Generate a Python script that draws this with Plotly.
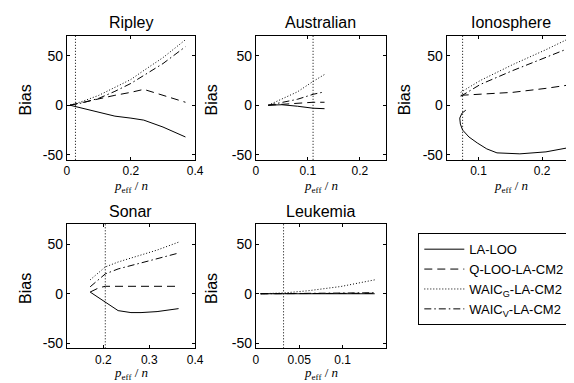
import plotly.graph_objects as go

W, H = 574, 383

# ---------------- data ----------------
titles = ["Ripley", "Australian", "Ionosphere", "Sonar", "Leukemia"]
methods = ["LA-LOO", "Q-LOO-LA-CM2", "WAIC<sub>G</sub>-LA-CM2", "WAIC<sub>V</sub>-LA-CM2"]

ripley_x = [0.01, 0.05, 0.1, 0.15, 0.2, 0.24, 0.3, 0.37]
ripley_la_loo = [0, -3, -7.5, -11, -13, -15, -22, -32]
ripley_q_loo = [0, 3, 7, 10, 13, 16, 10, 3]
ripley_waic_g = [0, 4, 10, 18, 26, 35, 48, 66]
ripley_waic_v = [0, 2.5, 7, 14, 22, 30, 42, 59]

australian_x = [0.024, 0.05, 0.08, 0.11, 0.132]
australian_la_loo = [0, 0.5, -1, -3, -3.5]
australian_q_loo = [0, 1, 2, 3, 3]
australian_waic_g = [0, 6.5, 13.5, 24, 31]
australian_waic_v = [0, 2.5, 6, 11, 13.5]

ionosphere_la_loo_x = [0.080, 0.074, 0.0705, 0.0715, 0.075, 0.085, 0.098, 0.113, 0.129, 0.165, 0.206, 0.248]
ionosphere_la_loo = [-5, -8, -13, -19, -25, -32, -38, -44, -48, -49, -47, -42]
ionosphere_x = [0.072, 0.103, 0.154, 0.206, 0.248]
ionosphere_q_loo = [10, 11, 13, 17, 21]
ionosphere_waic_g = [13, 25, 41, 56, 69]
ionosphere_waic_v = [9, 21, 35, 48, 59]

sonar_x = [0.171, 0.19, 0.204, 0.232, 0.26, 0.282, 0.317, 0.364]
sonar_la_loo = [1.7, -4, -9, -17, -19, -19, -18, -15]
sonar_q_loo = [1.7, 6, 7.5, 7.5, 7.5, 7.5, 7.5, 7.5]
sonar_waic_g = [14, 22, 27, 32, 36, 39, 44, 52]
sonar_waic_v = [7, 15, 20, 25, 28.5, 31, 35, 41]

leukemia_x = [0.0056, 0.032, 0.06, 0.098, 0.137]
leukemia_la_loo = [0, 0, 0, 0, 0]
leukemia_q_loo = [0, 0, 0.1, 0.3, 0.5]
leukemia_waic_g = [0, 0.8, 3, 7.3, 14]
leukemia_waic_v = [0, 0.1, 0.3, 0.7, 1]

vline_x = [0.027, 0.11, 0.075, 0.204, 0.032]

x_ranges = [[0, 0.4], [0, 0.25], [0.05, 0.2485], [0.12, 0.4], [0, 0.15]]
x_tickvals = [[0, 0.2, 0.4], [0, 0.1, 0.2], [0.1, 0.2], [0.2, 0.3, 0.4], [0, 0.05, 0.1]]
x_ticktext = [["0", "0.2", "0.4"], ["0", "0.1", "0.2"], ["0.1", "0.2"], ["0.2", "0.3", "0.4"], ["0", "0.05", "0.1"]]
y_range = [-55, 70]
y_tickvals = [-50, 0, 50]
y_ticktext = ["-50", "0", "50"]

# ---------------- layout geometry (pixels) ----------------
panels_px = [  # left, right, top, bottom
    (57, 188, 28, 153),
    (250, 383, 28, 153),
    (445, 574, 28, 153),
    (57, 188, 218, 343),
    (250, 383, 218, 343),
]
ylabel_px = [15, 205, 402, 15, 205]
xlabel_gap = [27, 27, 27, None, None]   # None -> anchored at the bottom edge

dashes = ["solid", "8px,5px", "1px,2px", "7px,3px,1.5px,3px"]

series = [
    [(ripley_x, ripley_la_loo), (ripley_x, ripley_q_loo), (ripley_x, ripley_waic_g), (ripley_x, ripley_waic_v)],
    [(australian_x, australian_la_loo), (australian_x, australian_q_loo), (australian_x, australian_waic_g), (australian_x, australian_waic_v)],
    [(ionosphere_la_loo_x, ionosphere_la_loo), (ionosphere_x, ionosphere_q_loo), (ionosphere_x, ionosphere_waic_g), (ionosphere_x, ionosphere_waic_v)],
    [(sonar_x, sonar_la_loo), (sonar_x, sonar_q_loo), (sonar_x, sonar_waic_g), (sonar_x, sonar_waic_v)],
    [(leukemia_x, leukemia_la_loo), (leukemia_x, leukemia_q_loo), (leukemia_x, leukemia_waic_g), (leukemia_x, leukemia_waic_v)],
]

FONT = "Liberation Sans, Arial, Helvetica, sans-serif"
SERIF = "Liberation Serif, DejaVu Serif, Times New Roman, serif"

fig = go.Figure()
annotations = []
shapes = []
layout = dict(
    width=W, height=H,
    margin=dict(l=0, r=0, t=0, b=0),
    paper_bgcolor="white", plot_bgcolor="white",
    font=dict(family=FONT, size=13, color="black"),
    showlegend=True,
    legend=dict(
        x=416 / W, y=1 - 227 / H, xanchor="left", yanchor="top",
        bordercolor="black", borderwidth=1, bgcolor="white",
        font=dict(family=FONT, size=13, color="black"),
        itemwidth=40, tracegroupgap=0,
    ),
)

for i, (title, (l, r, t, b)) in enumerate(zip(titles, panels_px)):
    k = "" if i == 0 else str(i + 1)
    xa, ya = "xaxis" + k, "yaxis" + k
    xr, yr = "x" + k, "y" + k
    layout[xa] = dict(
        domain=[l / W, min(r / W, 1.0)], range=x_ranges[i], anchor=yr,
        showline=True, linecolor="black", linewidth=1, mirror="ticks",
        ticks="inside", ticklen=3, tickcolor="black",
        tickvals=x_tickvals[i], ticktext=x_ticktext[i],
        showgrid=False, zeroline=False, tickfont=dict(size=12),
    )
    layout[ya] = dict(
        domain=[1 - b / H, 1 - t / H], range=y_range, anchor=xr,
        showline=True, linecolor="black", linewidth=1,
        mirror=(False if i == 2 else "ticks"),
        ticks="inside", ticklen=3, tickcolor="black",
        tickvals=y_tickvals, ticktext=y_ticktext,
        showgrid=False, zeroline=False, tickfont=dict(size=14),
    )
    for j, (xs, ys) in enumerate(series[i]):
        fig.add_trace(go.Scatter(
            x=xs, y=ys, mode="lines", xaxis=xr, yaxis=yr,
            name=methods[j], showlegend=(i == 0),
            line=dict(color="black", width=1, dash=dashes[j]),
            hoverinfo="skip",
        ))
    shapes.append(dict(
        type="line", xref=xr, yref=yr + " domain", x0=vline_x[i], x1=vline_x[i], y0=0, y1=1,
        line=dict(color="black", width=1, dash="1px,2px"),
    ))
    cx = 0.5 if i != 2 else (0.5 * 131 / 129)
    # title
    annotations.append(dict(
        text=title, xref=xr + " domain", x=cx, yref="paper",
        y=1 - (t - 13) / H, xanchor="center", yanchor="middle", showarrow=False,
        font=dict(family=FONT, size=16, color="black"),
    ))
    # y label
    annotations.append(dict(
        text="Bias", xref="paper", x=ylabel_px[i] / W, yref="paper",
        y=1 - ((t + b) / 2 + 2) / H, xanchor="center", yanchor="middle", showarrow=False,
        textangle=-90, font=dict(family=FONT, size=16, color="black"),
    ))
    # x label
    if xlabel_gap[i] is None:
        ly, lanchor, shift = 0.0, "bottom", 4
    else:
        ly, lanchor, shift = 1 - (b + xlabel_gap[i]) / H, "middle", 0
    annotations.append(dict(
        text="<i>p</i><sub>eff</sub> / <i>n</i>", xref=xr + " domain",
        x=cx, yref="paper", y=ly, xanchor="center", yanchor=lanchor, showarrow=False,
        yshift=shift, font=dict(family=SERIF, size=13, color="black"),
    ))

layout["annotations"] = annotations
layout["shapes"] = shapes
fig.update_layout(**layout)

fig.write_html("out.html")
